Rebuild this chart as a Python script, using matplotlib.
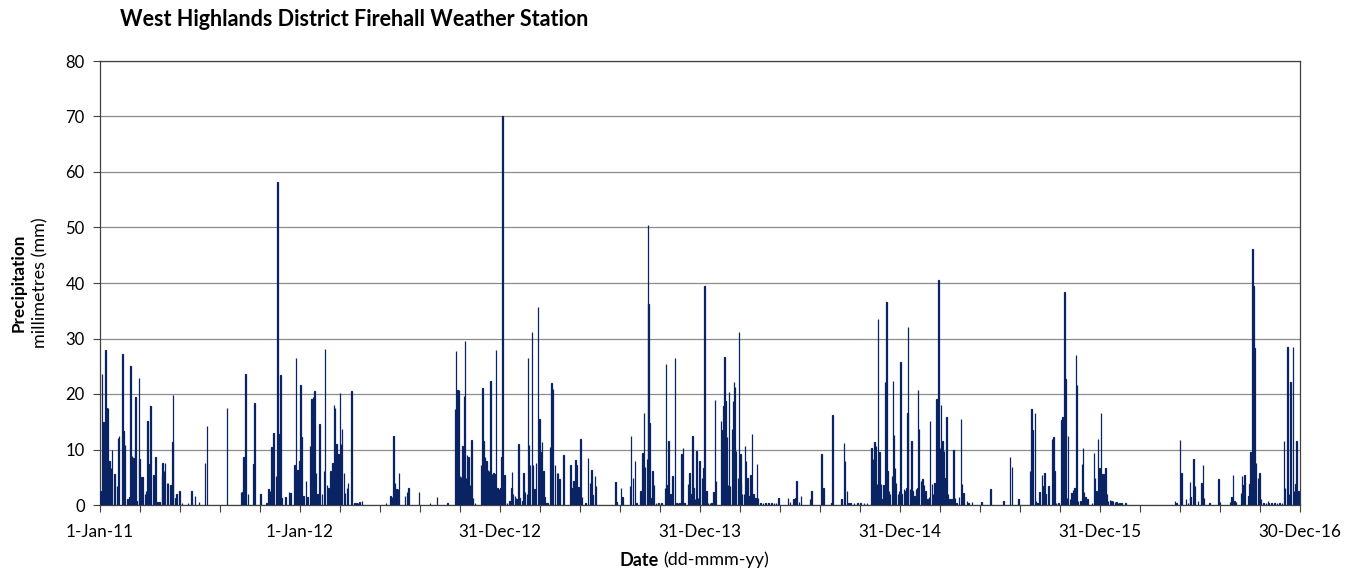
import numpy as np
import matplotlib
matplotlib.use("Agg")
import matplotlib.pyplot as plt

plt.rcParams['font.family'] = ['Lato', 'DejaVu Sans']

# Daily precipitation (mm); days counted from 1-Jan-2011, days not listed = 0
day_a = [1,4,6,10,12,15,17,20,22,26,31,33,35,41,43,46,50,54,56,58,61,64,65,67,71,72,74,78,82,84,
         87,89,92,98,101,105,109,113,114,117,119,122,124,129,132,133,138,140,145,150,161,167,173,181,192,195,232,257,260,262,
         266,270,280,282,293,304,308,310,313,315,317,321,324,326,329,331,339,345,348,355,358,360,364]
mm_a = [2.5,23.6,15,28,17.5,17.5,8,6.7,10,5.5,3.4,12,12.5,27.2,13.4,10.8,1,1.5,25,8.9,8.5,10,19.4,0.7,22.9,8.3,5,5,2,2.5,
        15.2,7.3,17.8,5.4,8.7,0.6,0.6,5.2,7.5,6.1,7.5,4,4,3.6,11.3,19.9,1.3,1.9,2.5,0.3,0.3,2.5,1.6,0.5,7.5,14.2,17.5,2.4,2.4,8.7,
        23.6,2,7.3,18.3,2,0.3,2.8,2.5,10.5,6.3,13,5.2,58.2,12.8,23.5,1.3,1.4,2.3,2.1,7.2,26.4,6.3,8]

day_b = [366,368,371,376,379,383,386,389,391,394,397,401,405,409,411,414,417,421,424,427,
         429,432,435,438,440,442,445,447,451,453,459,464,468,471,474,478,522,530,533,536,
         538,541,542,544,546,557,560,563,582,602,615,634,648,650,652,655,657,659,662,664,
         666,668,670,673,675,678,681,684,695,698,700,703,705,708,710,713,715,718,720,723,725,728]
mm_b = [21.7,12.3,1.6,4.3,1.5,10.7,19.1,19.4,20.6,5.8,2,14.6,1.9,6.1,28.1,3.6,3.1,6.1,7.6,18.1,
        17.5,11,9.2,20.1,11,13.7,5.8,2.2,3.1,4,20.6,0.4,0.4,0.4,0.6,0.8,0.4,1.6,1.5,12.4,
        4,2.8,2.9,2.8,5.8,1.7,2.3,3,2.3,0.3,1.4,0.3,17.3,27.7,20.8,20.7,5.2,5,10.7,19.7,
        29.5,4.8,9,8.7,3.6,11.7,1.3,0.4,7.2,21.1,11.6,8.7,8,6.3,6.1,22.4,5.5,5.7,5.5,28,3.1,2.8]

day_c = [731,733,735,738,743,747,751,752,754,757,759,762,764,766,771,773,776,779,781,783,
         785,788,790,793,796,799,802,804,807,809,811,815,817,821,824,827,830,834,836,839,
         846,859,862,864,868,870,873,877,880,886,891,894,897,899,903,905,941,943,951,954,
         967,969,973,976,979,986,990,993,995,998,1000,1001,1003,1005,1008,1011,1015,1019,1025,1031,
         1033,1036,1038,1041,1045,1049,1052,1055,1058,1061,1064,1067,1073,1076,1078,1081,1083,1086,1089,1091,1094]
mm_c = [3.1,8.7,70,5.4,0.4,0.7,3.1,5.9,2,1.7,1.3,1,11,1.3,0.8,5.8,2.3,2,26.4,10.8,
        7.2,31.2,7.2,2.8,7.5,35.6,15.5,9.6,11.4,6.1,1.4,0.4,0.3,10.4,21.9,20.9,7.2,5.7,5.7,4.6,
        9,7.2,3.1,4.3,8.1,7.2,3.3,11.9,1.4,0.3,8.4,4,6.3,1.8,5.2,3.4,4.2,0.5,3,1.4,
        3.4,12.4,4.9,8,0.4,2.5,9.3,16.6,6.9,8.3,50.5,36.3,14.8,1.3,6.1,3.6,0.4,0.4,0.4,3.1,
        25.4,3.6,11.6,1.9,5.2,26.4,0.4,0.4,0.4,9.2,10.2,0.4,3.7,5.8,1.9,12.4,3.1,1,9.8,1.2,8]

day_d = [1099,1101,1103,1107,1110,1113,1116,1120,1122,1124,1133,1136,1138,1140,1142,1144,1146,1148,1150,1153,
         1155,1157,1159,1161,1164,1166,1169,1170,1172,1175,1177,1179,1182,1185,1187,1190,1193,1196,1199,1201,
         1205,1210,1215,1220,1225,1230,1234,1238,1256,1259,1266,1269,1271,1276,1279,1296,1298,1317,1320,1335,
         1337,1353,1358,1360,1363,1366,1370,1376,1382,1388,1394,1400,1408,1411,1413,1416,1418,1420,1423,1425,
         1428,1430,1433,1435,1437,1440,1442,1445,1447,1449,1451,1453,1456,1458]
mm_d = [4.8,6.7,39.4,2.5,0.4,0.4,0.4,2.3,18.9,4.3,15.2,13.5,17.9,26.7,18.7,12.3,3.6,20.3,3.4,13.7,
        18.8,22.1,21.2,9.8,4.9,31.2,9.2,4,1.9,1.9,10.7,8,4.9,1.6,5.4,12.8,1.9,1.3,7.3,1.3,
        0.3,0.3,0.3,0.3,0.3,0.3,0.3,1.3,1.3,0.6,1,1.2,4.3,0.6,1.6,1,2.5,9.2,3,0.3,
        16.3,1,11.2,8,2.5,0.3,0.3,0.3,0.3,0.3,0.3,0.3,10.2,8.3,11.3,10.7,3.7,33.6,9.5,3.7,
        1,3.6,22.1,36.6,6.1,2.5,1.9,5.2,22.3,12.6,6.6,4,1.9,2.5]

day_e = [1461,1463,1467,1470,1472,1474,1475,1478,1481,1483,1486,1489,1492,1493,1495,1498,1501,1504,1507,1510,
         1513,1515,1518,1520,1523,1525,1527,1530,1533,1535,1538,1540,1543,1545,1548,1550,1554,1558,1560,1563,
         1568,1571,1573,1576,1582,1585,1591,1609,1625,1649,1661,1664,1676,1697,1700,1702,1706,1708,1711,1715,
         1719,1722,1724,1726,1731,1737,1740,1742,1745,1749,1755,1757,1760,1762,1765,1767,1770,1773,1776,1778,
         1781,1783,1785,1789,1792,1794,1796,1799,1802,1810,1814,1816,1819,1821,1824]
mm_e = [25.7,2,2.9,2.5,3,16.5,32,2.8,11.6,2.5,1.7,2.8,3.1,20.8,13.7,4.3,4.6,3.6,2.5,1,
        1.4,15.2,3.7,2,3.9,3.7,19.1,40.5,10.2,18,11.6,9.8,4.9,15.9,2,1,1,9.9,1.3,0.4,
        1.5,15.5,3.7,2.2,0.8,0.4,0.6,0.6,2.8,0.8,8.7,6.9,1,6.1,17.3,13.5,16.6,0.7,0.3,2.4,
        5.4,3.4,5.7,1.9,3.4,11.9,12.3,6.1,0.4,0.4,15.3,15.8,38.4,22.7,1.3,12.5,1,2.2,2.7,3.1,
        27,21.7,0.8,0.7,7.3,10.2,2.3,1.4,1,0.4,9.4,4.9,2.5,11.9,6.7]

day_f = [1827,1830,1833,1835,1838,1840,1843,1846,1849,1852,1855,1858,1861,1864,1872,1962,1965,1971,1974,1982,
         1986,1989,1990,1996,1998,2004,2010,2013,2015,2025,2041,2044,2062,2065,2068,2070,2073,2082,2084,2087,
         2089,2096,2098,2100,2103,2105,2107,2110,2113,2116,2119,2123,2128,2132,2133,2138,2143,2148,2153,2157,
         2161,2163,2167,2170,2173,2177,2179,2182,2184,2187,2189]
mm_f = [16.6,5.5,5.5,6.6,1.9,0.8,0.9,0.8,0.7,0.6,0.5,0.4,0.4,0.3,0.4,0.8,0.4,11.8,5.7,1.1,
        0.4,4.2,1.5,8.3,3.4,0.8,3.9,7.2,1.3,0.4,4.7,0.6,0.6,1.4,5.4,0.7,0.6,2.2,5.2,3.6,
        5.4,1.6,3.7,9.5,46.2,39.4,28.3,7.6,4.9,5.8,1,0.4,0.4,0.8,0.4,0.4,0.4,0.4,0.4,0.4,
        11.6,3.1,28.4,2,22.1,28.4,2.5,3.7,11.6,2.5,2.2]

tick_days = [0, 365, 730, 1095, 1460, 1825, 2190]
tick_labels = ['1-Jan-11', '1-Jan-12', '31-Dec-12', '31-Dec-13', '31-Dec-14', '31-Dec-15', '30-Dec-16']
y_ticks = [0, 10, 20, 30, 40, 50, 60, 70, 80]

days = np.array(day_a + day_b + day_c + day_d + day_e + day_f)
mm = np.array(mm_a + mm_b + mm_c + mm_d + mm_e + mm_f)

W, H = 1357, 571
fig = plt.figure(figsize=(W / 100, H / 100), dpi=100)
ax = fig.add_axes([100 / W, 1 - 505 / H, 1200 / W, 444 / H])

bar_color = '#0a2463'
ax.bar(days, mm, width=1.0, color=bar_color, edgecolor=bar_color, linewidth=0.9, zorder=3)

ax.set_xlim(0, 2190)
ax.set_ylim(0, 80)
ax.set_yticks(y_ticks)
ax.set_yticklabels([str(v) for v in y_ticks], fontsize=12)
ax.set_xticks(tick_days)
ax.set_xticklabels(tick_labels, fontsize=12.3)
ax.set_xticks(np.arange(0, 2191, 73), minor=True)
ax.tick_params(axis='x', which='both', direction='out', length=5, width=0.8, color='#404040', pad=9)
ax.tick_params(axis='y', direction='out', length=5, width=0.8, color='#404040', pad=6)
ax.grid(axis='y', color='#8c8c8c', linewidth=0.9, zorder=0)
ax.set_axisbelow(True)
for side in ['left', 'bottom', 'top', 'right']:
    ax.spines[side].set_color('#404040')
    ax.spines[side].set_linewidth(0.9)

fig.text(120 / W, 1 - 20 / H, 'West Highlands District Firehall Weather Station',
         fontsize=15.5, fontweight='bold', ha='left', va='center')
fig.text(19 / W, 1 - 283 / H, 'Precipitation', fontsize=12.3, fontweight='bold',
         rotation=90, ha='center', va='center')
fig.text(40 / W, 1 - 283 / H, 'millimetres (mm)', fontsize=13,
         rotation=90, ha='center', va='center')
fig.text(659 / W, 1 - 560 / H, 'Date', fontsize=13, fontweight='bold', ha='right', va='center')
fig.text(663 / W, 1 - 560 / H, '(dd-mmm-yy)', fontsize=13, ha='left', va='center')

fig.savefig('out.png', dpi=100)
